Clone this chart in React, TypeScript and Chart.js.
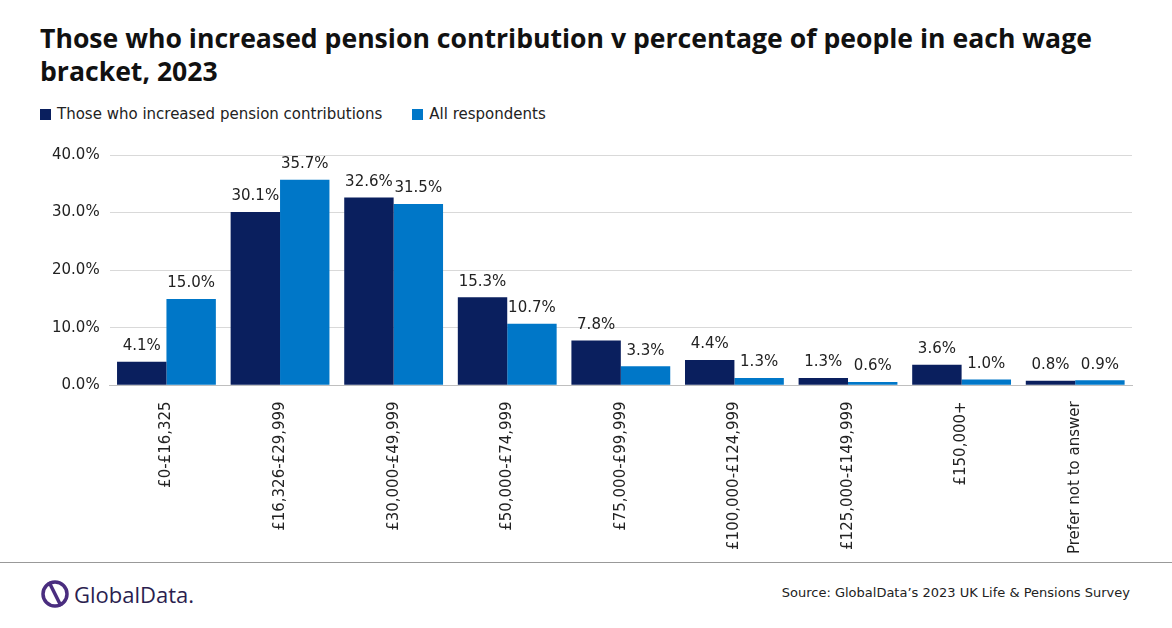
import React, { useEffect, useRef } from "react";
import { Chart, registerables } from "chart.js";
Chart.register(...registerables);

const categories = ["£0-£16,325", "£16,326-£29,999", "£30,000-£49,999", "£50,000-£74,999", "£75,000-£99,999", "£100,000-£124,999", "£125,000-£149,999", "£150,000+", "Prefer not to answer"];
const increased = [4.1, 30.1, 32.6, 15.3, 7.8, 4.4, 1.3, 3.6, 0.8];
const allResp = [15.0, 35.7, 31.5, 10.7, 3.3, 1.3, 0.6, 1.0, 0.9];
const seriesNames = ["Those who increased pension contributions", "All respondents"];
const colors = ["#0a1f5e", "#0077c8"];
const FONT = "'DejaVu Sans', Verdana, sans-serif";

const labelPlugin = {
  id: "vals",
  afterDatasetsDraw(chart: any) {
    const ctx = chart.ctx;
    ctx.save();
    ctx.font = `15px ${FONT}`;
    ctx.fillStyle = "#222";
    ctx.textAlign = "center";
    ctx.textBaseline = "bottom";
    chart.data.datasets.forEach((ds: any, i: number) => {
      chart.getDatasetMeta(i).data.forEach((bar: any, j: number) => {
        ctx.fillText(ds.data[j].toFixed(1) + "%", bar.x, bar.y - 8);
      });
    });
    ctx.restore();
  },
};

export default function App() {
  const ref = useRef<HTMLCanvasElement>(null);
  useEffect(() => {
    const chart = new Chart(ref.current!, {
      type: "bar",
      data: {
        labels: categories,
        datasets: [
          { label: seriesNames[0], data: increased, backgroundColor: colors[0], categoryPercentage: 0.87, barPercentage: 1 },
          { label: seriesNames[1], data: allResp, backgroundColor: colors[1], categoryPercentage: 0.87, barPercentage: 1 },
        ],
      },
      options: {
        animation: false,
        responsive: false,
        layout: { padding: { top: 10, right: 10 } },
        plugins: { legend: { display: false }, tooltip: { enabled: false } },
        scales: {
          y: {
            min: 0, max: 40,
            ticks: { stepSize: 10, color: "#222", font: { size: 15, family: FONT }, callback: (v: any) => Number(v).toFixed(1) + "%", padding: 10 },
            grid: { color: "#d9d9d9", drawTicks: false },
            border: { display: false },
          },
          x: {
            ticks: { color: "#222", font: { size: 15, family: FONT }, maxRotation: 90, minRotation: 90, autoSkip: false, padding: 8 },
            grid: { display: false },
            border: { color: "#bfbfbf" },
          },
        },
      },
      plugins: [labelPlugin],
    });
    return () => chart.destroy();
  }, []);
  return (
    <div style={{ position: "fixed", left: 0, top: 0, width: 1172, height: 628, background: "#fff", fontFamily: FONT, overflow: "hidden" }}>
      <div style={{ position: "absolute", left: 40, top: 22, width: 1100, fontFamily: "'Open Sans', sans-serif", fontWeight: 700, fontSize: 26.6, lineHeight: "33px", color: "#111" }}>
        Those who increased pension contribution v percentage of people in each wage bracket, 2023
      </div>
      <div style={{ position: "absolute", left: 40, top: 105, display: "flex", alignItems: "center", fontSize: 15, color: "#222" }}>
        <span style={{ width: 11, height: 11, background: colors[0], marginRight: 6 }} />
        <span style={{ marginRight: 30 }}>{seriesNames[0]}</span>
        <span style={{ width: 11, height: 11, background: colors[1], marginRight: 6 }} />
        <span>{seriesNames[1]}</span>
      </div>
      <canvas ref={ref} width={1100} height={426} style={{ position: "absolute", left: 42, top: 136 }} />
      <div style={{ position: "absolute", left: 0, top: 562, width: 1172, height: 1, background: "#999" }} />
      <div style={{ position: "absolute", left: 40, top: 578, display: "flex", alignItems: "center" }}>
        <svg width="30" height="32" viewBox="0 0 30 32">
          <circle cx="15" cy="16" r="12" fill="none" stroke="#4a2d7f" strokeWidth="3.5" />
          <line x1="9" y1="4" x2="21" y2="28" stroke="#4a2d7f" strokeWidth="3.5" />
        </svg>
        <span style={{ fontFamily: "'Open Sans', sans-serif", fontSize: 22, color: "#2b1e4f", marginLeft: 4, fontWeight: 500 }}>GlobalData.</span>
      </div>
      <div style={{ position: "absolute", right: 42, top: 585, fontSize: 13, color: "#222" }}>
        Source: GlobalData’s 2023 UK Life &amp; Pensions Survey
      </div>
    </div>
  );
}
